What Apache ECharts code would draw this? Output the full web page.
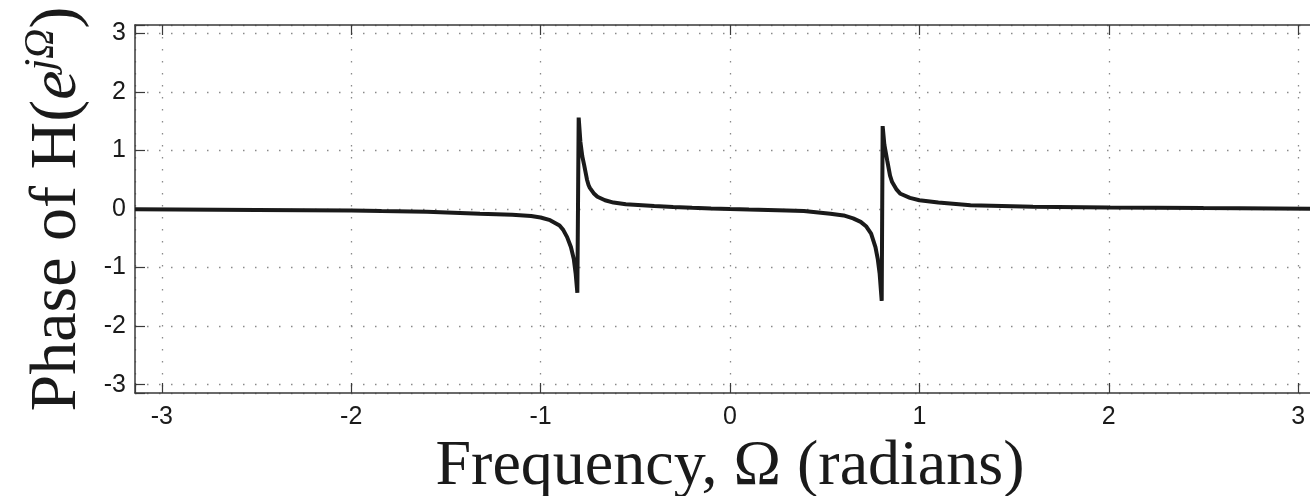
<!DOCTYPE html>
<html>
<head>
<meta charset="utf-8">
<script src="https://cdn.jsdelivr.net/npm/echarts@6/dist/echarts.min.js"></script>
<style>
  html, body { margin: 0; padding: 0; background: #fff; }
  #chart { width: 1310px; height: 496px; }
</style>
</head>
<body>
<div id="chart"></div>
<script>
// frequency samples (radians)
const omega = [
  -3.1416, -2.5, -2.0, -1.84, -1.6, -1.32, -1.15, -1.05, -1.0, -0.95, -0.9, -0.88,
  -0.86, -0.84, -0.825, -0.815, -0.806,
  -0.799, -0.79, -0.78, -0.77, -0.755, -0.747, -0.74, -0.72, -0.70, -0.66, -0.615, -0.55,
  -0.4, -0.3, -0.2, -0.1, 0,
  0.1, 0.2, 0.3, 0.39, 0.53, 0.6, 0.65, 0.69, 0.72, 0.745, 0.768, 0.78, 0.79, 0.801,
  0.806, 0.815, 0.83, 0.845, 0.856, 0.88, 0.9, 0.95, 1.0, 1.1, 1.27, 1.6, 2.0, 2.5, 3.1416
]
// phase of H(e^jΩ)
const phase = [
  -0.005, -0.015, -0.025, -0.035, -0.045, -0.08, -0.1, -0.12, -0.145, -0.19, -0.28, -0.36,
  -0.48, -0.65, -0.85, -1.1, -1.43,
  1.56, 1.15, 0.9, 0.75, 0.5, 0.41, 0.36, 0.27, 0.21, 0.15, 0.11, 0.08,
  0.05, 0.035, 0.022, 0.01, 0,
  -0.008, -0.015, -0.025, -0.035, -0.08, -0.11, -0.16, -0.22, -0.3, -0.42, -0.65, -0.85, -1.1, -1.57,
  1.415, 1.1, 0.83, 0.57, 0.46, 0.33, 0.26, 0.19, 0.15, 0.11, 0.065, 0.04, 0.025, 0.015, 0.005
]
const tickValues = [-3, -2, -1, 0, 1, 2, 3]

const chart = echarts.init(document.getElementById('chart'))

const intLabel = v => {
  const r = Math.round(v)
  return Math.abs(v - r) < 1e-6 && tickValues.includes(r) ? String(r) : ''
}
const axisLine = { show: true, onZero: false, lineStyle: { color: '#3a3a3a', width: 1.5 } }
const axisTick = { show: true, inside: true, length: 10, lineStyle: { color: '#3a3a3a', width: 1.2 } }
const gridLine = { show: true, lineStyle: { color: '#8a8a8a', width: 1.3, type: [1.5, 10.5] } }
const tickFont = { color: '#1a1a1a', fontSize: 25, fontFamily: 'Liberation Sans, Arial, sans-serif' }

chart.setOption({
  backgroundColor: '#fff',
  animation: false,
  grid: { left: 135, top: 25, right: -15, bottom: 103, containLabel: false, outerBoundsMode: 'none' },
  xAxis: [
    {
      type: 'value', min: -Math.PI, max: Math.PI, splitNumber: 6,
      position: 'bottom',
      name: 'Frequency, Ω (radians)',
      nameLocation: 'middle', nameGap: 28,
      nameTextStyle: { fontFamily: 'Liberation Serif, Times New Roman, serif', fontSize: 64, color: '#1a1a1a' },
      axisLine, axisTick,
      axisLabel: Object.assign({ margin: 12, formatter: intLabel }, tickFont),
      splitLine: gridLine
    },
    {
      type: 'value', min: -Math.PI, max: Math.PI, splitNumber: 6,
      position: 'top',
      axisLine, axisTick,
      axisLabel: { show: false },
      splitLine: { show: false }
    }
  ],
  yAxis: [
    {
      type: 'value', min: -Math.PI, max: Math.PI, splitNumber: 6,
      name: '{n|Phase of H(}{e|e}{s|jΩ}{n|)}',
      nameLocation: 'middle', nameGap: 44, nameRotate: 90,
      nameTextStyle: {
        color: '#1a1a1a',
        rich: {
          n: { fontFamily: 'Liberation Serif, serif', fontSize: 66, color: '#1a1a1a', verticalAlign: 'bottom' },
          e: { fontFamily: 'Liberation Serif, serif', fontStyle: 'italic', fontSize: 66, color: '#1a1a1a', verticalAlign: 'bottom' },
          s: { fontFamily: 'Liberation Serif, serif', fontStyle: 'italic', fontSize: 42, color: '#1a1a1a', verticalAlign: 'bottom', padding: [0, 0, 28, 0] }
        }
      },
      axisLine, axisTick,
      axisLabel: Object.assign({ margin: 9, formatter: intLabel }, tickFont),
      splitLine: gridLine
    }
  ],
  series: [
    {
      type: 'line',
      data: omega.map((w, i) => [w, phase[i]]),
      showSymbol: false,
      smooth: false,
      lineStyle: { color: '#1a1a1a', width: 4 },
      itemStyle: { color: '#1a1a1a' }
    }
  ]
})
</script>
</body>
</html>
